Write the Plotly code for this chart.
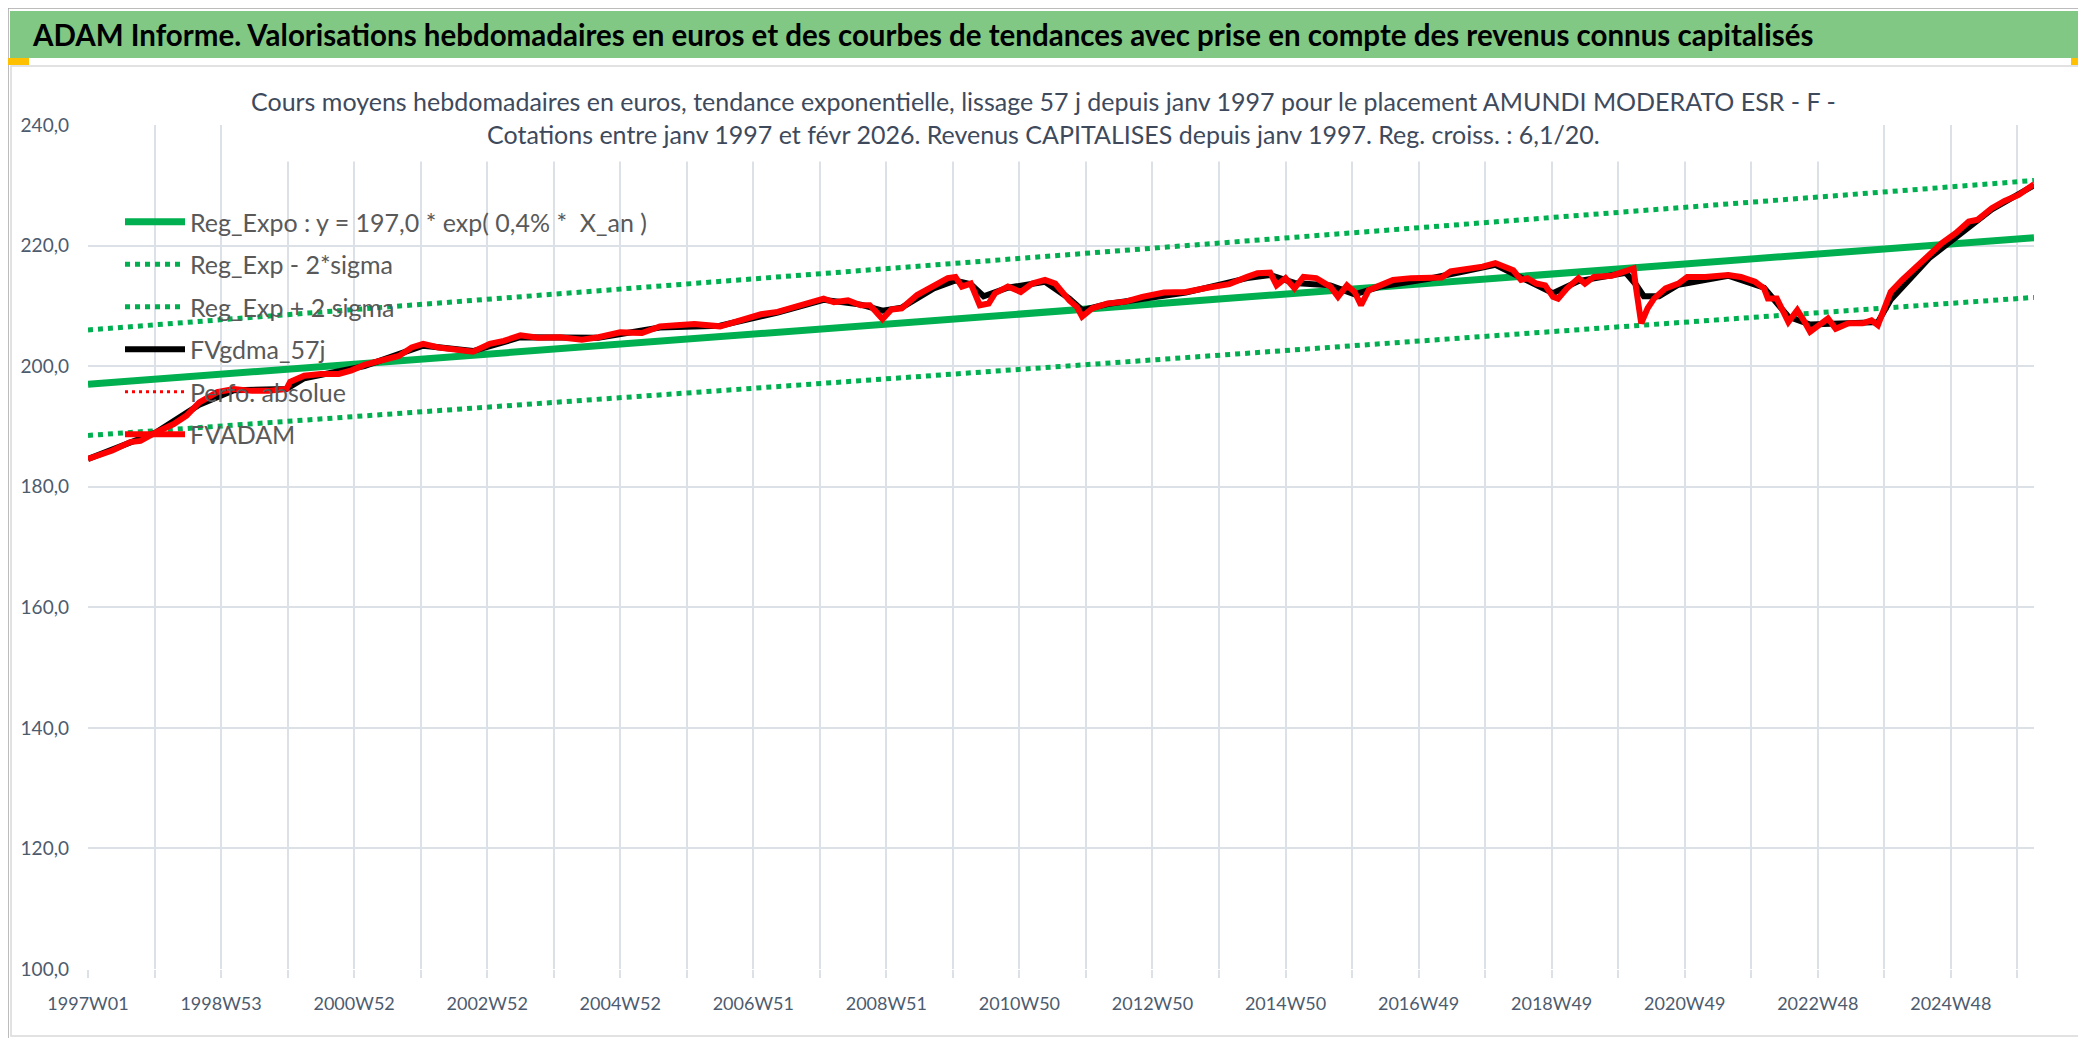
import plotly.graph_objects as go

# ---- data (x = week index since 1997W01) ----
week_ticks = [0, 104, 208, 312, 416, 520, 624, 728, 832, 936, 1040, 1144, 1248, 1352, 1456]
week_labels = ["1997W01", "1998W53", "2000W52", "2002W52", "2004W52", "2006W51", "2008W51",
               "2010W50", "2012W50", "2014W50", "2016W49", "2018W49", "2020W49", "2022W48", "2024W48"]

trend_idx = [0, 1521]
reg_expo = [197.0, 221.3]
reg_minus = [188.5, 211.4]
reg_plus = [206.0, 230.8]

fvadam_idx = [0, 19, 33, 41, 53, 67, 77, 87, 101, 114, 128, 141, 155, 158, 169, 182, 196, 206, 216,
              230, 243, 253, 262, 274, 291, 301, 314, 325, 338, 352, 369, 386, 399, 416, 433, 447,
              460, 474, 494, 512, 526, 539, 553, 566, 575, 583, 594, 604, 611, 616, 621, 628, 636,
              648, 661, 672, 678, 683, 690, 697, 704, 709, 719, 729, 738, 748, 756, 767, 773, 777,
              785, 797, 811, 824, 841, 858, 875, 892, 906, 914, 924, 929, 936, 943, 950, 960, 971,
              977, 984, 990, 995, 1001, 1010, 1020, 1034, 1048, 1058, 1065, 1079, 1090, 1100, 1107,
              1114, 1120, 1125, 1132, 1139, 1145, 1149, 1156, 1165, 1170, 1177, 1191, 1202, 1208,
              1210, 1214, 1219, 1224, 1233, 1243, 1250, 1264, 1282, 1292, 1303, 1310, 1313, 1320,
              1329, 1336, 1341, 1346, 1353, 1360, 1366, 1376, 1387, 1394, 1399, 1404, 1409, 1418,
              1428, 1439, 1449, 1460, 1470, 1477, 1488, 1498, 1509, 1521]
fvadam = [184.6, 186.0, 187.4, 187.6, 189.0, 190.4, 191.8, 194.0, 195.7, 196.2, 195.9, 195.9, 196.2,
          197.4, 198.4, 198.7, 198.7, 199.3, 200.2, 200.9, 201.7, 203.1, 203.7, 203.1, 202.6, 202.4,
          203.7, 204.2, 205.1, 204.7, 204.8, 204.4, 204.8, 205.6, 205.5, 206.6, 206.8, 207.0, 206.6,
          207.6, 208.6, 209.0, 209.8, 210.7, 211.2, 210.6, 210.9, 210.1, 210.1, 209.0, 207.8, 209.4,
          209.6, 211.8, 213.2, 214.6, 214.8, 213.2, 213.7, 210.1, 210.4, 212.1, 213.2, 212.3, 213.7,
          214.3, 213.7, 210.9, 209.8, 208.2, 209.6, 210.4, 210.7, 211.5, 212.2, 212.3, 213.0, 213.6,
          214.8, 215.4, 215.5, 213.4, 214.6, 212.9, 214.8, 214.6, 213.2, 211.5, 213.4, 212.3, 210.1,
          212.6, 213.4, 214.3, 214.6, 214.6, 214.7, 215.7, 216.1, 216.5, 217.1, 216.5, 215.9, 214.3,
          214.6, 213.7, 213.4, 211.5, 211.2, 212.9, 214.6, 213.7, 214.8, 215.0, 215.7, 216.2, 212.9,
          207.1, 209.6, 211.2, 212.9, 213.7, 214.8, 214.8, 215.1, 214.8, 214.0, 212.9, 211.2, 211.2,
          207.3, 209.3, 207.6, 205.7, 206.8, 207.9, 206.2, 207.1, 207.1, 207.6, 206.8, 209.6, 212.3,
          214.3, 216.3, 218.2, 220.4, 222.1, 224.0, 224.3, 226.2, 227.4, 228.4, 230.2]

gdma_idx = [0, 53, 87, 114, 155, 169, 216, 262, 301, 338, 399, 447, 494, 539, 575, 604, 621, 636,
            661, 678, 690, 700, 719, 748, 767, 777, 797, 858, 906, 924, 943, 971, 990, 1010, 1048,
            1100, 1120, 1145, 1165, 1202, 1210, 1216, 1228, 1243, 1282, 1310, 1329, 1346, 1399,
            1409, 1439, 1488, 1521]
gdma = [184.6, 189.0, 193.6, 196.0, 196.2, 198.0, 200.0, 203.4, 202.5, 204.8, 204.7, 206.4, 206.7,
        208.9, 211.0, 210.2, 209.2, 209.7, 212.9, 214.2, 213.6, 211.6, 213.0, 214.0, 211.2, 209.3,
        210.3, 212.2, 214.6, 215.1, 213.8, 213.4, 211.9, 213.2, 214.5, 216.8, 214.7, 212.1, 214.1,
        215.5, 213.5, 211.6, 211.6, 213.5, 215.0, 213.0, 208.2, 206.9, 207.3, 211.0, 217.9, 226.0,
        230.0]

header = ("ADAM Informe. Valorisations hebdomadaires en euros et des courbes de tendances "
          "avec prise en compte des revenus connus capitalisés")
title1 = ("Cours moyens hebdomadaires en euros, tendance exponentielle, lissage 57 j depuis janv 1997 "
          "pour le placement AMUNDI MODERATO ESR - F -")
title2 = ("Cotations entre janv 1997 et févr 2026. Revenus CAPITALISES depuis janv 1997. "
          "Reg. croiss. : 6,1/20.")

W, H = 2086, 1038
ML, MR, MT, MB = 80, 60, 117, 77
GREEN = "#00B050"
GRID = "#DCE1E8"
FONT = "Lato"


def pp(px, py):
    # pixel position -> paper coordinates
    return (px - ML) / (W - ML - MR), (H - MB - py) / (H - MT - MB)


def rect(x0, y0, x1, y1, **kw):
    a, b = pp(x0, y1)
    c, d = pp(x1, y0)
    return dict(type="rect", xref="paper", yref="paper", x0=a, y0=b, x1=c, y1=d, layer="below", **kw)


fig = go.Figure()
fig.add_trace(go.Scatter(x=trend_idx, y=reg_expo, mode="lines", name="Reg_Expo : y = 197,0 * exp( 0,4% *  X_an )",
                         line=dict(color=GREEN, width=7), legendgroup="a"))
fig.add_trace(go.Scatter(x=trend_idx, y=reg_minus, mode="lines", name="Reg_Exp - 2*sigma",
                         line=dict(color=GREEN, width=5, dash="5px,5px"), legendgroup="b"))
fig.add_trace(go.Scatter(x=trend_idx, y=reg_plus, mode="lines", name="Reg_Exp + 2 sigma",
                         line=dict(color=GREEN, width=5, dash="5px,5px"), legendgroup="c"))
fig.add_trace(go.Scatter(x=gdma_idx, y=gdma, mode="lines", name="FVgdma_57j",
                         line=dict(color="black", width=6), legendgroup="d"))
fig.add_trace(go.Scatter(x=[None], y=[None], mode="lines", name="Perfo. absolue",
                         line=dict(color="#FF0000", width=3, dash="3px,4px"), legendgroup="e"))
fig.add_trace(go.Scatter(x=fvadam_idx, y=fvadam, mode="lines", name="FVADAM",
                         line=dict(color="#FF0000", width=6), legendgroup="f"))

shapes = [
    rect(0, 0, 2083, 1036, line=dict(color="#A6A6A6", width=1.5), fillcolor="white"),
    rect(2, 3, 2072, 50, line=dict(width=0), fillcolor="#80C883"),
    rect(3, 58, 2075, 1028, line=dict(color="#D9D9D9", width=1.5)),
    rect(0, 50, 21, 57, line=dict(width=0), fillcolor="#FFC000"),
    rect(2063, 50, 2083, 57, line=dict(width=0), fillcolor="#FFC000"),
    rect(2077, 50, 2083, 66, line=dict(width=0), fillcolor="#FFC000"),
    rect(0, 1031, 21, 1037, line=dict(width=0), fillcolor="#FFC000"),
    rect(2063, 1031, 2086, 1038, line=dict(width=0), fillcolor="#FFC000"),
    rect(2078, 995, 2086, 1038, line=dict(width=0), fillcolor="#FFC000"),
]

hx, hy = pp(22, 27)
tx, ty = pp(1035, 110)
annotations = [
    dict(text="<b>" + header + "</b>", xref="paper", yref="paper", x=hx, y=hy, xanchor="left",
         yanchor="middle", showarrow=False, font=dict(family=FONT, size=29.5, color="black")),
    dict(text=title1 + "<br>" + title2, xref="paper", yref="paper", x=tx, y=ty, xanchor="center",
         yanchor="middle", showarrow=False, bgcolor="white", borderpad=12,
         font=dict(family=FONT, size=25, color="#3E4A5C")),
]

fig.update_layout(
    width=W, height=H, margin=dict(l=ML, r=MR, t=MT, b=MB),
    paper_bgcolor="white", plot_bgcolor="white",
    separators=", ",
    font=dict(family=FONT, color="#4D5B6E"),
    shapes=shapes, annotations=annotations,
    showlegend=True,
    legend=dict(x=pp(112, 0)[0], y=pp(0, 191)[1], xanchor="left", yanchor="top",
                bgcolor="rgba(0,0,0,0)", font=dict(family=FONT, size=25, color="#595959"),
                traceorder="grouped", tracegroupgap=7, itemwidth=60),
    xaxis=dict(range=[0, 1521], tickmode="array", tickvals=week_ticks, ticktext=week_labels,
               showgrid=False, zeroline=False, showline=False,
               ticks="outside", ticklen=8, tickcolor=GRID, tickwidth=1.5,
               ticklabelstandoff=10,
               tickfont=dict(family=FONT, size=18, color="#4D5B6E")),
    yaxis=dict(range=[100, 240], dtick=20, tickformat=".1f", showgrid=True, gridcolor=GRID,
               gridwidth=1.5, zeroline=False, showline=False, ticks="",
               ticklabelstandoff=18,
               tickfont=dict(family=FONT, size=19, color="#4D5B6E")),
)
fig.update_xaxes(minor=dict(tick0=0, dtick=52, showgrid=True, gridcolor=GRID, gridwidth=1.5,
                            ticks="outside", ticklen=8, tickcolor=GRID))

fig.write_html("out.html")
